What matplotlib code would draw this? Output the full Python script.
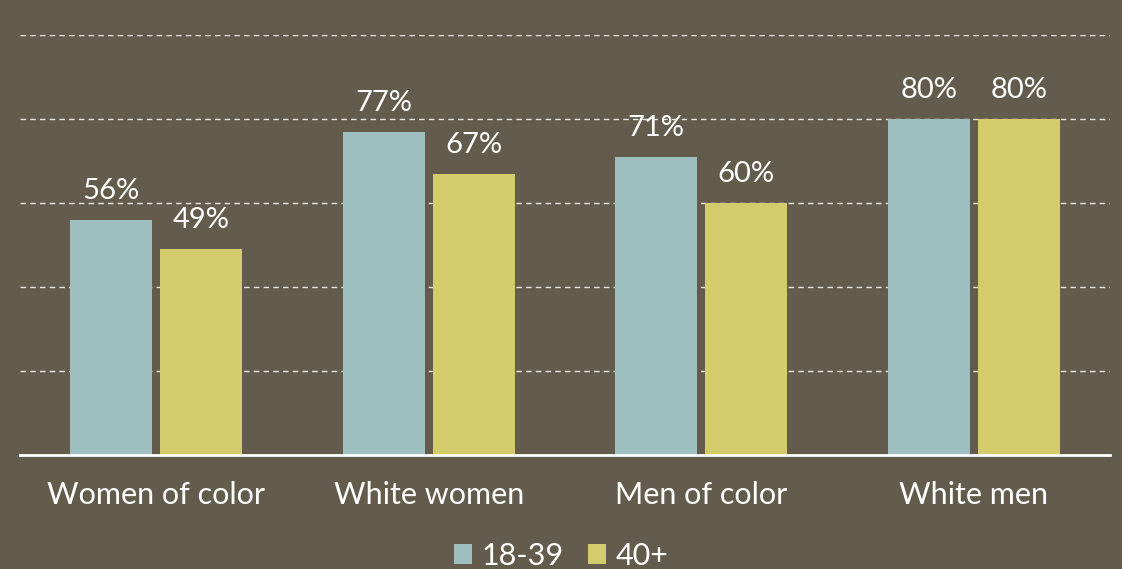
import matplotlib.pyplot as plt
import numpy as np

# Datos del gráfico
categorias = ["Women of color", "White women", "Men of color", "White men"]
jovenes = [56, 77, 71, 80]   # 18-39
mayores = [49, 67, 60, 80]   # 40+
series = ["18-39", "40+"]

FONDO = "#635C4D"
COLOR_18 = "#9DBFBF"
COLOR_40 = "#D3CB6C"

plt.rcParams['font.family'] = ['Lato', 'DejaVu Sans']

fig = plt.figure(figsize=(11.22, 5.69), dpi=100, facecolor=FONDO)
ax = fig.add_axes([0.0178, 0.2004, 0.9715, 0.7381])
ax.set_facecolor(FONDO)

x = np.arange(len(categorias))
ancho = 0.30
desp = 0.165

b1 = ax.bar(x - desp, jovenes, ancho, color=COLOR_18, label=series[0], zorder=3)
b2 = ax.bar(x + desp, mayores, ancho, color=COLOR_40, label=series[1], zorder=3)

# Etiquetas de valores
for barras in (b1, b2):
    for b in barras:
        ax.text(b.get_x() + b.get_width() / 2, b.get_height() + 3.8,
                f"{int(b.get_height())}%", ha="center", va="bottom",
                color="white", fontsize=21)

ax.set_xlim(-0.5, 3.5)
ax.set_ylim(0, 100)
ax.set_yticks([20, 40, 60, 80, 100])
ax.yaxis.grid(True, linestyle=(0, (4, 3)), color="#E8E6DC", linewidth=1, zorder=0)
ax.tick_params(left=False, bottom=False, labelleft=False)
ax.set_xticks(x)
ax.set_xticklabels(categorias, color="white", fontsize=22)
ax.tick_params(axis="x", pad=15)

for lado in ["top", "right", "left"]:
    ax.spines[lado].set_visible(False)
ax.spines["bottom"].set_color("white")
ax.spines["bottom"].set_linewidth(2)
ax.spines["bottom"].set_zorder(4)

leg = fig.legend(loc="lower center", bbox_to_anchor=(0.5, -0.05), ncol=2,
                 frameon=False, fontsize=22, labelcolor="white",
                 handlelength=0.6, handleheight=0.6, handletextpad=0.3,
                 columnspacing=0.8)

fig.savefig("out.png", dpi=100, facecolor=FONDO)
